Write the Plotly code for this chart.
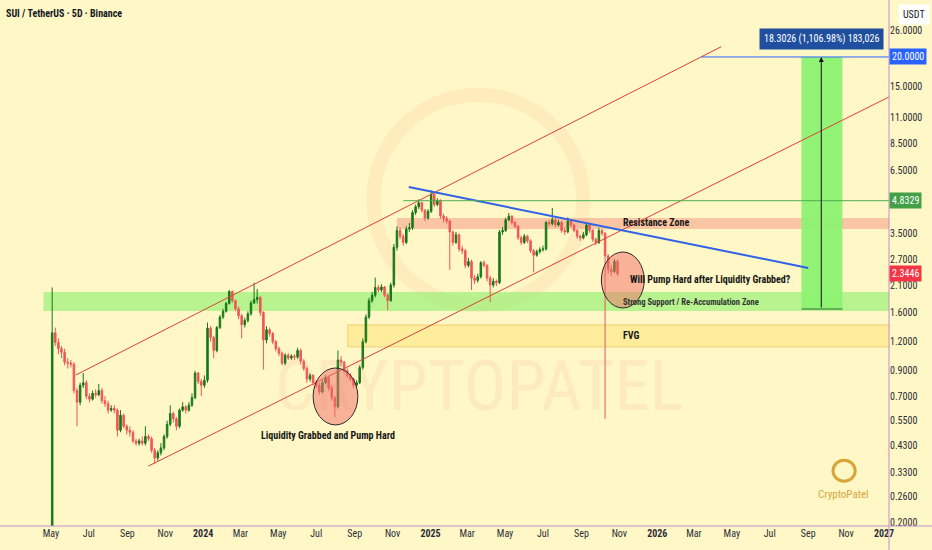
"""SUI / USDT 5D chart with channel, zones and target projection (TradingView-style)."""
import math

import pandas as pd
import plotly.graph_objects as go

# ---------------- data ----------------
START = '2023-05-03'  # first 5D candle

OPEN = [
    0.10, 1.31, 1.19, 1.12, 1.08, 0.98, 0.97, 0.96, 0.74, 0.66,
    0.78, 0.80, 0.70, 0.68, 0.72, 0.71, 0.74, 0.67, 0.65, 0.61,
    0.62, 0.61, 0.50, 0.58, 0.52, 0.50, 0.49, 0.45, 0.44, 0.45,
    0.44, 0.47, 0.46, 0.41, 0.38, 0.40, 0.42, 0.47, 0.53, 0.59,
    0.56, 0.52, 0.61, 0.63, 0.61, 0.64, 0.69, 0.88, 0.81, 0.78,
    0.82, 1.37, 1.25, 1.10, 1.38, 1.53, 1.62, 1.75, 1.97, 1.80,
    1.66, 1.55, 1.42, 1.48, 1.58, 1.76, 1.82, 1.86, 1.60, 1.22,
    1.35, 1.30, 1.20, 1.12, 1.07, 0.97, 1.05, 1.02, 1.04, 1.03,
    1.10, 0.99, 0.92, 0.83, 0.86, 0.80, 0.78, 0.73, 0.80, 0.84,
    0.76, 0.69, 0.63, 1.00, 0.98, 0.90, 0.86, 0.83, 0.78, 0.80,
    0.93, 1.20, 1.53, 1.80, 1.90, 2.05, 2.00, 2.06, 1.90, 1.80,
    2.10, 3.05, 3.60, 3.40, 3.20, 3.65, 3.70, 4.30, 4.55, 4.74,
    4.40, 4.07, 4.35, 5.15, 4.65, 4.85, 4.15, 4.05, 3.95, 3.55,
    3.20, 3.45, 3.00, 2.95, 2.55, 2.65, 2.25, 2.20, 2.28, 2.62,
    2.55, 2.25, 2.10, 2.18, 2.15, 3.55, 3.60, 4.00, 4.15, 3.90,
    3.75, 3.35, 3.20, 3.40, 3.25, 2.95, 2.82, 2.92, 2.98, 3.00,
    3.90, 3.85, 4.00, 3.80, 3.90, 3.60, 3.55, 3.95, 3.80, 3.60,
    3.40, 3.35, 3.45, 3.80, 3.60, 3.30, 3.20, 3.60, 3.50, 2.80,
    2.45, 2.40, 2.65,
]
HIGH = [
    2.05, 1.38, 1.24, 1.15, 1.12, 1.02, 1.00, 0.98, 0.76, 0.80,
    0.88, 0.82, 0.72, 0.74, 0.75, 0.79, 0.76, 0.70, 0.67, 0.64,
    0.64, 0.62, 0.61, 0.59, 0.53, 0.52, 0.50, 0.46, 0.46, 0.47,
    0.52, 0.48, 0.47, 0.42, 0.41, 0.44, 0.48, 0.55, 0.64, 0.60,
    0.57, 0.62, 0.66, 0.64, 0.66, 0.72, 0.90, 0.89, 0.83, 0.86,
    1.45, 1.40, 1.27, 1.40, 1.56, 1.66, 1.78, 2.00, 1.99, 1.82,
    1.70, 1.58, 1.52, 1.62, 1.80, 2.15, 2.02, 1.88, 1.62, 1.40,
    1.38, 1.32, 1.22, 1.14, 1.09, 1.07, 1.07, 1.06, 1.06, 1.13,
    1.12, 1.01, 0.94, 0.88, 0.87, 0.82, 0.80, 0.82, 0.86, 0.85,
    0.78, 0.70, 1.10, 1.04, 0.99, 0.92, 0.88, 0.84, 0.82, 0.95,
    1.24, 1.57, 1.85, 1.96, 2.26, 2.10, 2.12, 2.08, 1.93, 2.15,
    3.15, 3.75, 3.70, 3.48, 3.75, 3.88, 4.40, 4.65, 4.90, 4.78,
    4.45, 4.45, 5.35, 5.20, 4.95, 4.90, 4.25, 4.15, 4.00, 3.60,
    3.55, 3.50, 3.10, 3.00, 2.75, 2.70, 2.32, 2.35, 2.66, 2.68,
    2.58, 2.30, 2.25, 2.22, 3.62, 3.72, 4.08, 4.28, 4.18, 3.95,
    3.80, 3.42, 3.48, 3.45, 3.30, 3.00, 2.98, 3.05, 3.10, 3.95,
    4.00, 4.50, 4.10, 4.00, 3.95, 3.70, 4.10, 4.00, 3.85, 3.65,
    3.45, 3.55, 3.88, 3.85, 3.65, 3.35, 3.70, 3.65, 3.55, 2.85,
    2.55, 2.72, 2.70,
]
LOW = [
    0.10, 1.15, 1.06, 1.02, 0.95, 0.92, 0.93, 0.72, 0.52, 0.64,
    0.76, 0.68, 0.66, 0.67, 0.69, 0.70, 0.65, 0.63, 0.59, 0.60,
    0.59, 0.47, 0.49, 0.51, 0.48, 0.47, 0.44, 0.43, 0.43, 0.43,
    0.43, 0.45, 0.40, 0.36, 0.37, 0.39, 0.41, 0.46, 0.52, 0.54,
    0.50, 0.51, 0.60, 0.59, 0.60, 0.63, 0.68, 0.79, 0.70, 0.76,
    0.80, 1.20, 1.02, 1.08, 1.36, 1.50, 1.60, 1.73, 1.76, 1.62,
    1.50, 1.24, 1.38, 1.45, 1.55, 1.74, 1.75, 1.55, 0.91, 1.18,
    1.26, 1.17, 1.09, 1.04, 0.95, 0.95, 1.00, 1.00, 1.00, 1.01,
    0.96, 0.90, 0.80, 0.81, 0.78, 0.76, 0.71, 0.72, 0.79, 0.74,
    0.67, 0.57, 0.62, 0.94, 0.88, 0.84, 0.81, 0.76, 0.76, 0.79,
    0.91, 1.18, 1.50, 1.76, 1.86, 1.95, 1.96, 1.86, 1.64, 1.78,
    2.05, 2.95, 3.30, 3.10, 3.15, 3.55, 3.62, 4.20, 4.45, 4.30,
    3.95, 4.00, 4.28, 4.55, 4.58, 4.05, 3.90, 3.85, 2.44, 3.10,
    3.15, 2.92, 2.85, 2.48, 2.50, 2.00, 2.12, 2.15, 2.24, 2.50,
    2.18, 1.77, 2.05, 2.08, 2.12, 3.45, 3.55, 3.95, 3.82, 3.68,
    3.28, 3.12, 3.15, 3.18, 2.88, 2.38, 2.78, 2.86, 2.92, 2.95,
    3.75, 3.78, 3.72, 3.74, 3.52, 3.45, 3.50, 3.72, 3.55, 3.32,
    3.25, 3.30, 3.40, 3.52, 3.22, 3.12, 3.15, 3.42, 0.56, 2.35,
    2.30, 2.36, 2.30,
]
CLOSE = [
    1.31, 1.19, 1.12, 1.08, 0.98, 0.97, 0.96, 0.74, 0.66, 0.78,
    0.80, 0.70, 0.68, 0.72, 0.71, 0.74, 0.67, 0.65, 0.61, 0.62,
    0.61, 0.50, 0.58, 0.52, 0.50, 0.49, 0.45, 0.44, 0.45, 0.44,
    0.47, 0.46, 0.41, 0.38, 0.40, 0.42, 0.47, 0.53, 0.59, 0.56,
    0.52, 0.61, 0.63, 0.61, 0.64, 0.69, 0.88, 0.81, 0.78, 0.82,
    1.37, 1.25, 1.10, 1.38, 1.53, 1.62, 1.75, 1.97, 1.80, 1.66,
    1.55, 1.42, 1.48, 1.58, 1.76, 1.82, 1.86, 1.60, 1.22, 1.35,
    1.30, 1.20, 1.12, 1.07, 0.97, 1.05, 1.02, 1.04, 1.03, 1.10,
    0.99, 0.92, 0.83, 0.86, 0.80, 0.78, 0.73, 0.80, 0.84, 0.76,
    0.69, 0.63, 1.00, 0.98, 0.90, 0.86, 0.83, 0.78, 0.80, 0.93,
    1.20, 1.53, 1.80, 1.90, 2.05, 2.00, 2.06, 1.90, 1.80, 2.10,
    3.05, 3.60, 3.40, 3.20, 3.65, 3.70, 4.30, 4.55, 4.74, 4.40,
    4.07, 4.35, 5.15, 4.65, 4.85, 4.15, 4.05, 3.95, 3.55, 3.20,
    3.45, 3.00, 2.95, 2.55, 2.65, 2.25, 2.20, 2.28, 2.62, 2.55,
    2.25, 2.10, 2.18, 2.15, 3.55, 3.60, 4.00, 4.15, 3.90, 3.75,
    3.35, 3.20, 3.40, 3.25, 2.95, 2.82, 2.92, 2.98, 3.00, 3.90,
    3.85, 4.00, 3.80, 3.90, 3.60, 3.55, 3.95, 3.80, 3.60, 3.40,
    3.35, 3.45, 3.80, 3.60, 3.30, 3.20, 3.60, 3.50, 2.80, 2.45,
    2.40, 2.65, 2.3446,
]

# axis ticks
PRICE_TICKS = [26, 15, 11, 8.5, 6.5, 3.5, 2.7, 2.1, 1.6, 1.2, 0.9, 0.7,
               0.55, 0.43, 0.33, 0.26, 0.2]
DATE_TICKS = ['2023-05-01', '2023-07-01', '2023-09-01', '2023-11-01',
              '2024-01-01', '2024-03-01', '2024-05-01', '2024-07-01',
              '2024-09-01', '2024-11-01', '2025-01-01', '2025-03-01',
              '2025-05-01', '2025-07-01', '2025-09-01', '2025-11-01',
              '2026-01-01', '2026-03-01', '2026-05-01', '2026-07-01',
              '2026-09-01', '2026-11-01', '2027-01-01']
DATE_LABELS = ['May', 'Jul', 'Sep', 'Nov', '<b>2024</b>', 'Mar', 'May', 'Jul',
               'Sep', 'Nov', '<b>2025</b>', 'Mar', 'May', 'Jul', 'Sep', 'Nov',
               '<b>2026</b>', 'Mar', 'May', 'Jul', 'Sep', 'Nov', '<b>2027</b>']

LAST_PRICE = 2.3446
BREAK_LEVEL = 4.8329
TARGET = 20.0
MEASURE_TEXT = '18.3026 (1,106.98%) 183,026'

# ---------------- style ----------------
BG = '#fff7c6'
UP = '#18791a'
DOWN = '#ef5757'
FRAME = '#c48dd0'
FONT = 'Liberation Sans Narrow, Roboto Condensed, Roboto, Arial, sans-serif'
X_RANGE = ['2023-02-08', '2027-01-09']
Y_RANGE = [-0.712, 1.5456]

dates = pd.date_range(START, periods=len(CLOSE), freq='5D')

fig = go.Figure()
fig.add_trace(go.Candlestick(
    x=dates, open=OPEN, high=HIGH, low=LOW, close=CLOSE,
    increasing=dict(line=dict(color=UP, width=1), fillcolor=UP),
    decreasing=dict(line=dict(color=DOWN, width=1), fillcolor=DOWN),
    whiskerwidth=0, showlegend=False, hoverinfo='skip',
))

shapes = []


def rect(x0, x1, y0, y1, fill, line=None, layer='below'):
    shapes.append(dict(type='rect', xref='x', yref='y', x0=x0, x1=x1, y0=y0, y1=y1,
                       fillcolor=fill, layer=layer,
                       line=line or dict(width=0)))


def seg(x0, y0, x1, y1, color, width=1):
    shapes.append(dict(type='line', xref='x', yref='y', x0=x0, y0=y0, x1=x1, y1=y1,
                       line=dict(color=color, width=width), layer='above'))


# watermark ring
shapes.append(dict(type='circle', xref='paper', yref='paper', x0=0.42, x1=0.656,
                   y0=0.42, y1=0.82, line=dict(color='rgba(245,160,120,0.13)', width=14),
                   layer='below'))

# zones
rect('2023-04-19', '2027-03-01', 1.625, 1.96, 'rgba(140,240,110,0.62)')
rect('2024-11-08', '2027-03-01', 3.65, 4.07, 'rgba(245,135,120,0.45)')
rect('2024-08-21', '2027-03-01', 1.14, 1.415, 'rgba(255,222,90,0.38)',
     line=dict(color='rgba(240,190,90,0.7)', width=1))
# target projection box
rect('2026-08-21', '2026-10-26', 1.657, TARGET, 'rgba(140,242,115,0.95)',
     line=dict(width=0), layer='above')
seg('2026-08-21', 1.657, '2026-10-26', 1.657, '#2c6b2c', 1)

# channel + trendline + levels
seg('2023-06-10', 0.863, '2026-04-14', 22.14, '#e0403a', 1)
seg('2023-10-05', 0.351, '2027-01-09', 13.47, '#e0403a', 1)
seg('2024-11-27', 5.53, '2026-09-01', 2.486, '#2f62e6', 2)
seg('2024-11-18', BREAK_LEVEL, '2027-03-01', BREAK_LEVEL, '#4caf50', 1)
seg('2026-03-13', TARGET, '2027-03-01', TARGET, '#2962ff', 1)

# circles
for x0, x1, y0, y1 in [('2024-06-26', '2024-09-06', 0.527, 0.925),
                       ('2025-10-03', '2025-12-11', 1.674, 2.91)]:
    shapes.append(dict(type='circle', xref='x', yref='y', x0=x0, x1=x1, y0=y0, y1=y1,
                       fillcolor='rgba(240,110,105,0.5)', layer='above',
                       line=dict(color='#2b2b2b', width=1)))

# price-scale frame
shapes.append(dict(type='line', xref='paper', yref='paper', x0=1, x1=1, y0=-0.05, y1=1,
                   line=dict(color=FRAME, width=1)))
shapes.append(dict(type='line', xref='paper', yref='paper', x0=0, x1=1.05, y0=0, y1=0,
                   line=dict(color=FRAME, width=1)))
# logo ring
shapes.append(dict(type='circle', xref='paper', yref='paper', x0=0.937, x1=0.962,
                   y0=0.085, y1=0.125, line=dict(color='#d8a638', width=3)))


def ly(v):
    return math.log10(v)


ann = []


def label(x, y, text, size=10, color='#161616', xanchor='center', bold=True):
    ann.append(dict(x=x, y=ly(y), xref='x', yref='y', text=f'<b>{text}</b>' if bold else text,
                    showarrow=False, xanchor=xanchor, yanchor='middle',
                    font=dict(size=size, color=color, family=FONT)))


label('2024-07-20', 0.477, 'Liquidity Grabbed and Pump Hard')
label('2025-11-03', 3.88, 'Resistance Zone', xanchor='left')
label('2025-11-15', 2.21, 'Will Pump Hard after Liquidity Grabbed?', xanchor='left')
label('2025-11-03', 1.776, 'Strong Support / Re-Accumulation Zone', size=8.5,
      color='#333', xanchor='left')
label('2025-11-03', 1.27, 'FVG', xanchor='left')

# measure arrow + label
ann.append(dict(x='2026-09-22', y=ly(TARGET), xref='x', yref='y',
                ax='2026-09-22', ay=ly(1.657), axref='x', ayref='y', text='',
                showarrow=True, arrowhead=2, arrowsize=1, arrowwidth=1, arrowcolor='#111'))
ann.append(dict(x='2026-09-22', y=ly(24.0), xref='x', yref='y', text=MEASURE_TEXT,
                showarrow=False, bgcolor='#1f4f9e', borderpad=4, yanchor='middle',
                font=dict(size=10, color='white', family=FONT)))

# price tags on the scale
for price, bg in [(TARGET, '#2962ff'), (BREAK_LEVEL, '#43a047'), (LAST_PRICE, '#f23645')]:
    ann.append(dict(x=1, y=ly(price), xref='paper', yref='y', text=f'{price:.4f}',
                    xanchor='left', yanchor='middle', showarrow=False, bgcolor=bg,
                    borderpad=2, font=dict(size=10, color='white', family=FONT)))

ann.append(dict(x=1.028, y=1, xref='paper', yref='paper', xanchor='center', yanchor='top',
                yshift=-4, text='USDT', showarrow=False, bgcolor='white', borderpad=4,
                font=dict(size=10, color='#131722', family=FONT)))
ann.append(dict(x=0, y=1, xref='paper', yref='paper', xanchor='left', yanchor='top',
                xshift=4, yshift=-6, text='<b>SUI / TetherUS · 5D · Binance</b>',
                showarrow=False, font=dict(size=10, color='#131722', family=FONT)))
# watermark
ann.append(dict(x=0.539, y=0.268, xref='paper', yref='paper', xanchor='center',
                yanchor='middle', text='CRYPTOPATEL', showarrow=False,
                font=dict(size=71, color='rgba(235,140,120,0.10)', family=FONT)))
ann.append(dict(x=0.949, y=0.059, xref='paper', yref='paper', xanchor='center',
                yanchor='middle', text='CryptoPatel', showarrow=False,
                font=dict(size=11, color='#d4a63a', family=FONT)))

fig.update_layout(
    width=932, height=550,
    margin=dict(l=0, r=43, t=0, b=24),
    paper_bgcolor=BG, plot_bgcolor=BG,
    font=dict(family=FONT, size=10, color='#2a2e39'),
    shapes=shapes, annotations=ann,
    showlegend=False,
    xaxis=dict(type='date', range=X_RANGE, rangeslider=dict(visible=False),
               tickvals=DATE_TICKS, ticktext=DATE_LABELS, showgrid=False,
               zeroline=False, ticks='', tickfont=dict(size=10, color='#2a2e39')),
    yaxis=dict(type='log', range=Y_RANGE, side='right', tickvals=PRICE_TICKS,
               ticktext=[f'{v:.4f}' for v in PRICE_TICKS], showgrid=False,
               zeroline=False, ticks='', tickfont=dict(size=10, color='#2a2e39')),
)

fig.write_html('out.html', config={'displayModeBar': False},
               post_script="document.body.style.margin='0';")
